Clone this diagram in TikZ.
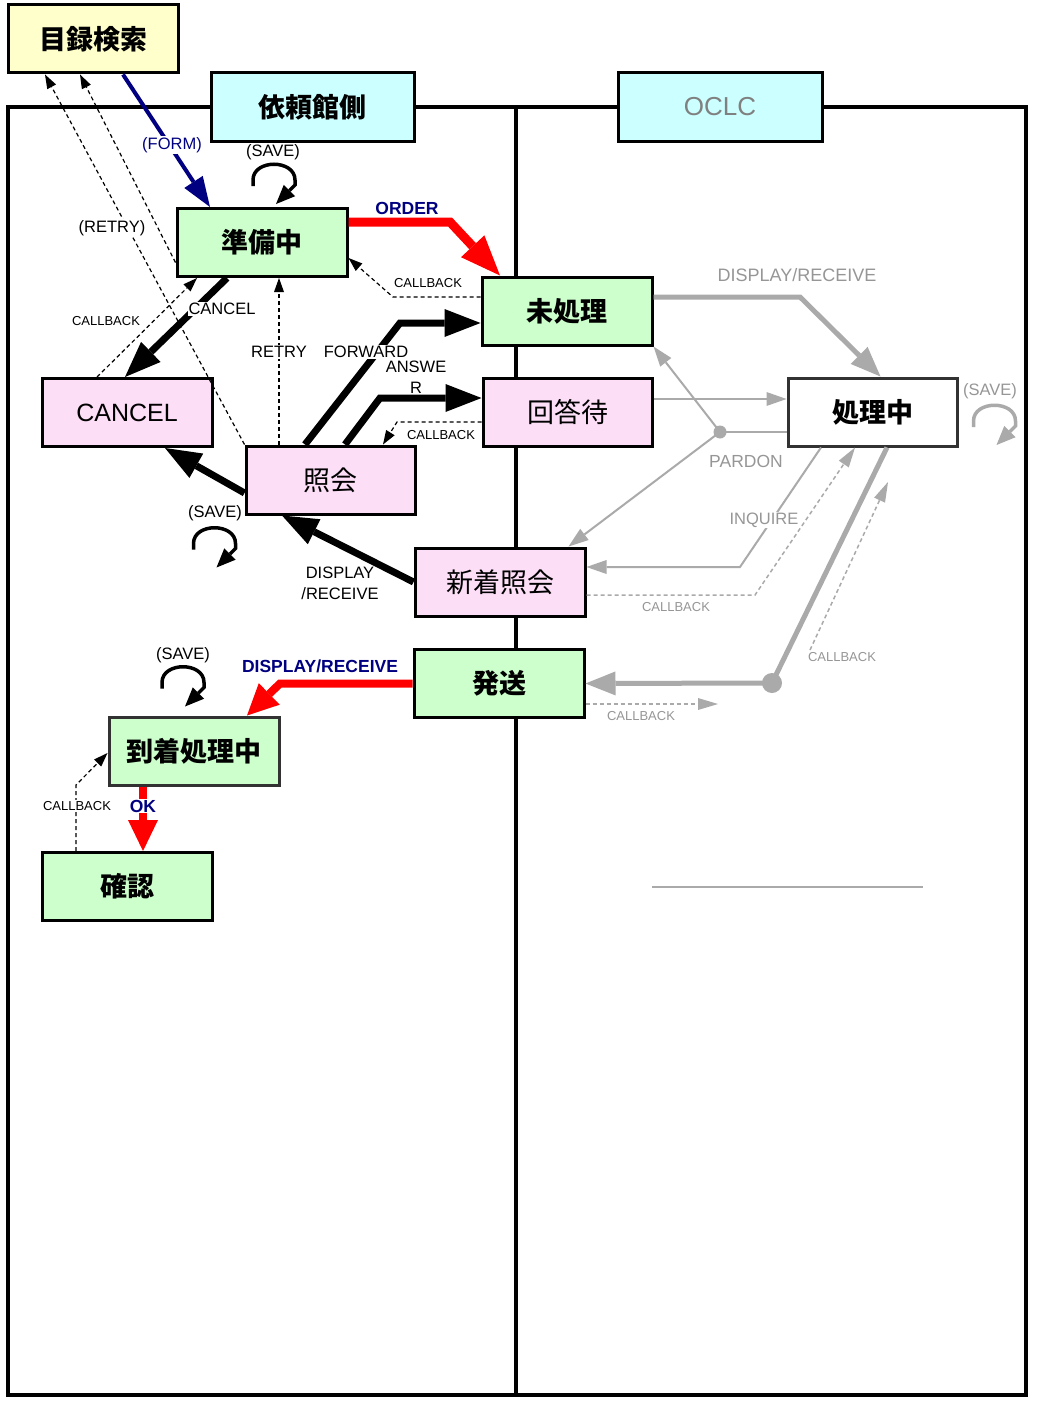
\documentclass[tikz,border=0pt]{standalone}
\usepackage{fontspec}
\setmainfont{Liberation Sans}
\newfontfamily\jp{Noto Sans CJK JP}
\usetikzlibrary{arrows.meta}
\definecolor{yel}{RGB}{255,255,204}
\definecolor{cya}{RGB}{204,255,255}
\definecolor{grn}{RGB}{204,255,204}
\definecolor{pnk}{RGB}{252,222,246}
\definecolor{navy}{RGB}{0,0,128}
\definecolor{ocg}{RGB}{170,170,170}
\definecolor{ocgt}{RGB}{150,150,150}
\definecolor{ocltxt}{RGB}{128,128,128}
\definecolor{redd}{RGB}{255,0,0}
\begin{document}
\begin{tikzpicture}[x=1pt,y=-1pt,
  box/.style={draw, line width=3pt, minimum width=170pt, minimum height=68pt, inner sep=0pt},
  jpbold/.style={font=\jp\bfseries\fontsize{27}{30}\selectfont},
  jpreg/.style={font=\jp\fontsize{27}{30}\selectfont},
  lbl/.style={font=\fontsize{16.5}{21}\selectfont, inner sep=1pt},
  sml/.style={font=\fontsize{13}{15}\selectfont, inner sep=1pt},
  nvb/.style={text=navy, font=\bfseries\fontsize{17.5}{20}\selectfont, inner sep=1pt},
  wb/.style={fill=white},
  thickblk/.style={line width=7pt, -{Triangle[length=36pt,width=28pt,line width=0pt]}},
  redarrow/.style={redd, line width=9pt, -{Triangle[length=40pt,width=32pt,line width=0pt]}},
  redarrowb/.style={redd, line width=8pt, -{Triangle[length=31pt,width=30pt,line width=0pt]}},
  navyarrow/.style={navy, line width=4pt, -{Triangle[length=30pt,width=22pt,line width=0pt]}},
  dashblk/.style={line width=1.2pt, dash pattern=on 4pt off 3pt, -{Triangle[length=14pt,width=10pt,line width=0pt]}},
  gthick/.style={ocg, line width=5pt, -{Triangle[length=30pt,width=24pt,line width=0pt]}},
  gthin/.style={ocg, line width=2pt, -{Triangle[length=20pt,width=14pt,line width=0pt]}},
  gdash/.style={ocg, line width=1.5pt, dash pattern=on 4pt off 3pt, -{Triangle[length=20pt,width=12pt,line width=0pt]}},
  pics/saveloop/.style={code={\draw[line width=3.5pt,-{Triangle[length=19pt,width=16pt,line width=0pt]}, #1]
     (0,0) -- (0,-6) .. controls (0,-27) and (42,-27) .. (42,-6) -- (42,-1) -- (23,18);}},
  pics/saveloop/.default=black
]
\useasboundingbox (0,0) rectangle (1053,1402);
\fill[white] (0,0) rectangle (1053,1402);

% frame
\draw[line width=4pt] (8,107) rectangle (1026,1395);
\draw[line width=4pt] (516,107) -- (516,1395);

% boxes
\node[box, fill=yel, jpbold] (mok) at (93,39) {目録検索};
\node[box, fill=cya, jpbold, minimum width=203pt] (irai) at (312.5,107) {依頼館側};
\node[box, fill=cya, minimum width=204pt, text=ocltxt, font=\fontsize{26}{30}\selectfont] (oclc) at (720,107) {OCLC};
\node[box, fill=grn, jpbold] (jun) at (262,242.5) {準備中};
\node[box, fill=grn, jpbold] (mi) at (567,311) {未処理};
\node[box, fill=pnk, font=\fontsize{25}{30}\selectfont] (can) at (127,412.5) {CANCEL};
\node[box, fill=pnk, jpreg, minimum width=169pt] (kai) at (567.5,412.5) {回答待};
\node[box, fill=pnk, jpreg, minimum width=169pt] (sho) at (330.5,480) {照会};
\node[box, fill=white, jpbold, minimum width=169pt, draw={rgb,255:red,50;green,50;blue,50}] (shori) at (872.5,412) {処理中};
\node[box, fill=pnk, jpreg] (shin) at (500,582) {新着照会};
\node[box, fill=grn, jpbold] (hasso) at (499,683.5) {発送};
\node[box, fill=grn, jpbold, draw={rgb,255:red,50;green,50;blue,50}] (tou) at (194,751) {到着処理中};
\node[box, fill=grn, jpbold] (kaku) at (127,886.5) {確認};

% ---- left side connectors ----
\draw[navyarrow] ([xshift=30pt]mok.south) -- ([xshift=-52pt]jun.north);
\draw[dashblk] (sho.north west) -- ([xshift=-48pt]mok.south);
\draw[dashblk] ([yshift=-20pt]jun.west) -- ([xshift=-13pt]mok.south);
\path ([xshift=-9pt,yshift=21pt]jun.north) pic {saveloop};
\draw[redarrow] ([yshift=20.5pt]jun.east) -- (450,222) -- ([xshift=-67pt]mi.north);
\draw[dashblk] ([yshift=14pt]mi.west) -- (393,297) -- ([yshift=-15.5pt]jun.east);
\draw[thickblk] ([xshift=-35pt]jun.south) -- ([xshift=-2pt]can.north);
\draw[dashblk] ([xshift=-30pt]can.north) -- ([xshift=-65pt]jun.south);
\draw[dashblk] ([xshift=-51.5pt]sho.north) -- ([xshift=17pt]jun.south);
\draw[thickblk] ([xshift=-25.5pt]sho.north) -- (400,323) -- ([yshift=-12pt]mi.west);
\draw[thickblk] ([xshift=14.5pt]sho.north) -- (380,398) -- ([yshift=14.5pt]kai.west);
\draw[dashblk] ([yshift=-9.5pt]kai.west) -- (397,422) -- ([xshift=52.5pt]sho.north);
\draw[thickblk] ([yshift=-13pt]sho.west) -- ([xshift=38pt]can.south);
\draw[thickblk] (shin.west) -- ([xshift=-48.5pt]sho.south);
\path ([xshift=-51pt,yshift=-34pt]sho.south west) pic {saveloop};
\path ([xshift=-32pt,yshift=27pt]tou.north) pic {saveloop};
\draw[redarrowb] (hasso.west) -- (280,683.5) -- ([xshift=53pt]tou.north);
\draw[redarrowb] ([xshift=-51pt]tou.south) -- ([xshift=16pt]kaku.north);
\draw[dashblk] ([xshift=-51pt]kaku.north) -- (76,785) -- ([yshift=-2pt]tou.west);

% labels left
\node[lbl, text=navy, wb] (lform) at (172,145) {(FORM)};
\node[lbl] (lsave1) at (273,152) {(SAVE)};
\node[nvb] (lorder) at (407,208) {ORDER};
\node[sml] (lcb1) at (428,283) {CALLBACK};
\node[lbl, wb] (lretry1) at (112,228) {(RETRY)};
\node[sml] (lcb2) at (106,321) {CALLBACK};
\node[lbl, wb] (lcancel) at (222,309) {CANCEL};
\node[lbl, wb] (lretry2) at (279,352) {RETRY};
\node[lbl, wb] (lfwd) at (366,352) {FORWARD};
\node[lbl, align=center] (lans) at (416,377) {ANSWE\\R};
\node[sml] (lcb3) at (441,435) {CALLBACK};
\node[lbl] (lsave2) at (215,513) {(SAVE)};
\node[lbl, align=center] (ldisp1) at (340,583) {DISPLAY\\/RECEIVE};
\node[lbl] (lsave3) at (183,655) {(SAVE)};
\node[nvb] (ldisp2) at (320,666) {DISPLAY/RECEIVE};
\node[sml, wb] (lcb4) at (77,806) {CALLBACK};
\node[nvb, wb] (lok) at (143,806) {OK};

% ---- OCLC side ----
\coordinate (pd) at (720,432);
\coordinate (hd) at (772,683);
\coordinate (cbs) at (810,650);
\coordinate (cbe) at (888,482);
\coordinate (cbh) at (718,704);
\draw[gthick] ([yshift=14pt]mi.east) -- (800,297) -- ([xshift=8pt]shori.north);
\draw[gthin] ([yshift=13.5pt]kai.east) -- ([yshift=13pt]shori.west);
\draw[ocg, line width=2pt] ([yshift=-20pt]shori.west) -- (pd);
\draw[gthin] (pd) -- (mi.south east);
\draw[gthin] (pd) -- ([xshift=-18pt]shin.north east);
\fill[ocg] (pd) circle (6.5pt);
\draw[gthin] ([xshift=-51.5pt]shori.south) -- (740,567) -- ([yshift=15pt]shin.east);
\node[lbl, text=ocgt, wb] (linq) at (764,520) {INQUIRE};
\draw[gdash] ([yshift=-13pt]shin.east) -- (755,595) -- ([xshift=-17.5pt]shori.south);
\draw[ocg, line width=5pt] ([xshift=14.5pt]shori.south) -- (hd);
\draw[gthick] (hd) -- (hasso.east);
\fill[ocg] (hd) circle (10pt);
\draw[gdash] (cbs) -- (cbe);
\draw[gdash] ([yshift=-20.5pt]hasso.east) -- (cbh);
\path ([xshift=15pt,yshift=-15pt]shori.east) pic {saveloop=ocg};
\draw[ocg, line width=1.5pt] (652,887) -- (923,887);

\node[text=ocgt, font=\fontsize{18}{21}\selectfont, inner sep=1pt] (gdisp) at (797,275) {DISPLAY/RECEIVE};
\node[lbl, text=ocgt] (gsave) at (990,391) {(SAVE)};
\node[text=ocgt, font=\fontsize{17.5}{21}\selectfont, inner sep=1pt] (gpard) at (746,461) {PARDON};
\node[sml, text=ocgt] (gcb1) at (676,607) {CALLBACK};
\node[sml, text=ocgt] (gcb2) at (842,657) {CALLBACK};
\node[sml, text=ocgt] (gcb3) at (641,716) {CALLBACK};
\end{tikzpicture}
\end{document}
